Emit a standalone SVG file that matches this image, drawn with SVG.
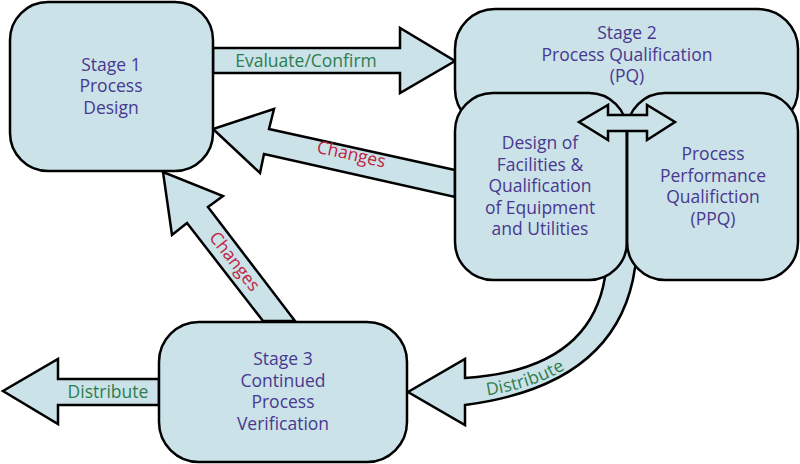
<svg xmlns="http://www.w3.org/2000/svg" width="800" height="464" viewBox="0 0 800 464">
  <style>
    .box { fill: #CBE2E8; stroke: #000; stroke-width: 2.5; }
    .arrow { fill: #CBE2E8; stroke: #000; stroke-width: 2.5; stroke-linejoin: miter; }
    .node { font-family: "Open Sans", "Noto Sans", sans-serif; font-size: 17.5px; fill: #483890; text-anchor: middle; }
    .lg { font-family: "Open Sans", "Noto Sans", sans-serif; font-size: 17.5px; fill: #2E7D4E; text-anchor: middle; }
    .lr { font-family: "Open Sans", "Noto Sans", sans-serif; font-size: 17.5px; fill: #C0223F; text-anchor: middle; }
  </style>
  <defs>
    <path id="distPath" d="M 465 392 Q 604 380 620 273"/>
  </defs>
  <rect width="800" height="464" fill="#fff"/>

  <g id="connectors">
    <!-- Evaluate/Confirm -->
    <polygon class="arrow" points="213,48 400,48 400,28 455,61 400,93 400,73 213,73"/>
    <text class="lg" x="306" y="67">Evaluate/Confirm</text>
    <!-- Changes (from Stage 2 to Stage 1) -->
    <polygon class="arrow" points="455,170 269,129 274,109 213,129 260,173 264,154 455,197"/>
    <text class="lr" transform="translate(350,160) rotate(12.6)">Changes</text>
    <!-- Changes (from Stage 3 to Stage 1) -->
    <polygon class="arrow" points="263,321 187,223 172,235 163,172 223,196 208,207 295,321"/>
    <text class="lr" transform="translate(230,265) rotate(52)">Changes</text>
    <!-- Distribute (left) -->
    <polygon class="arrow" points="159,379 58,379 58,359 3,391 58,424 58,405 159,405"/>
    <text class="lg" x="108" y="398">Distribute</text>
    <!-- Distribute (curved, from Stage 2 to Stage 3) -->
    <path class="arrow" d="M 600 250 L 605 277 Q 590 370 465 378 L 465 359 L 408 392 L 465 425 L 465 405 Q 618 385 635 268 L 640 250 Z"/>
    <text class="lg" dy="6" style="text-anchor:start"><textPath href="#distPath" startOffset="21">Distribute</textPath></text>
  </g>

  <g id="stage1">
    <rect class="box" x="10" y="2" width="203" height="169" rx="38" ry="38"/>
    <text class="node" x="111" y="71">Stage 1</text>
    <text class="node" x="111" y="92">Process</text>
    <text class="node" x="111" y="114">Design</text>
  </g>

  <g id="stage2">
    <rect class="box" x="455" y="9" width="343" height="120" rx="40" ry="40"/>
    <text class="node" x="627" y="39">Stage 2</text>
    <text class="node" x="627" y="61">Process Qualification</text>
    <text class="node" x="627" y="82">(PQ)</text>
  </g>

  <g id="design-facilities">
    <rect class="box" x="455" y="93" width="172" height="187" rx="38" ry="38"/>
    <text class="node" x="540" y="149">Design of</text>
    <text class="node" x="540" y="171">Facilities &amp;</text>
    <text class="node" x="540" y="192">Qualification</text>
    <text class="node" x="540" y="214">of Equipment</text>
    <text class="node" x="540" y="235">and Utilities</text>
  </g>

  <g id="ppq">
    <rect class="box" x="627" y="93" width="171" height="187" rx="38" ry="38"/>
    <text class="node" x="713" y="160">Process</text>
    <text class="node" x="713" y="182">Performance</text>
    <text class="node" x="713" y="203">Qualifiction</text>
    <text class="node" x="713" y="225">(PPQ)</text>
  </g>

  <g id="connector-dfq-ppq">
    <polygon class="arrow" points="608,115 608,105 579,122 608,140 608,131 647,131 647,140 675,122 647,105 647,115"/>
    <line x1="627" y1="131" x2="627" y2="250" stroke="#000" stroke-width="2.5"/>
  </g>

  <g id="stage3">
    <rect class="box" x="159" y="322" width="248" height="140" rx="40" ry="40"/>
    <text class="node" x="283" y="365">Stage 3</text>
    <text class="node" x="283" y="387">Continued</text>
    <text class="node" x="283" y="408">Process</text>
    <text class="node" x="283" y="430">Verification</text>
  </g>
</svg>
